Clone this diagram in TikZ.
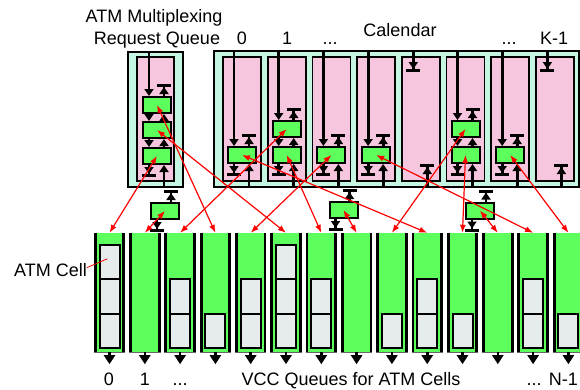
\documentclass[tikz,border=0pt]{standalone}
\usepackage{fontspec}
\setmainfont{Liberation Sans}
\usetikzlibrary{arrows.meta}

\definecolor{mint}{RGB}{196,246,226}
\definecolor{slotpink}{RGB}{246,198,222}
\definecolor{qgreen}{RGB}{92,255,92}
\definecolor{cellgray}{RGB}{230,235,235}

\begin{document}
\begin{tikzpicture}[x=1pt,y=-1pt,
      lbl/.style={font=\fontsize{18}{20}\selectfont,inner sep=0pt,anchor=base},
      frame/.style={draw,line width=2pt,fill=mint,inner sep=0pt},
      calslot/.style={draw,line width=1.8pt,fill=slotpink,inner sep=0pt,minimum width=38pt,minimum height=124pt},
      entrybox/.style={draw,line width=2pt,fill=qgreen,inner sep=0pt,minimum width=28pt,minimum height=16pt},
      vcc/.style={fill=qgreen,inner sep=0pt,minimum width=31pt,minimum height=119pt},
      atmcell/.style={draw,line width=2pt,fill=cellgray,inner sep=0pt,minimum width=20pt,minimum height=34.5pt},
      ptr/.style={line width=2.8pt,-{Triangle[length=7pt,width=9pt]}},
      nullptr/.style={line width=2.8pt,-{Triangle[length=7pt,width=9pt]Bar[width=14pt,line width=3pt]}},
      drain/.style={line width=2.6pt,-{Triangle[length=9pt,width=11pt]}},
      every edge/.style={draw,red,line width=1.2pt,{Latex[length=8pt,width=6pt]}-{Latex[length=8pt,width=6pt]}}
    ]
      \useasboundingbox[fill=white] (0,0) rectangle (580,389);

      \node[frame,minimum width=55pt,minimum height=135pt] (rq) at (155.5,119.5) {};
      \node[calslot,minimum width=37pt] (rqin) at (155.5,119) {};
      \node[entrybox] (r1) at (157,105) {};
      \node[entrybox] (r2) at (157,130) {};
      \node[entrybox] (r3) at (157,156) {};
      \draw[ptr] ([xshift=-8pt]r1.north |- rq.north) -- ([xshift=-8pt]r1.north);
      \draw[nullptr] ([xshift=7pt]r1.north) -- ++(0,-12);
      \draw[ptr] ([xshift=-8pt]r1.south) -- ([xshift=-8pt]r2.north);
      \draw[ptr] ([xshift=7pt]r2.north) -- ([xshift=7pt]r1.south);
      \draw[ptr] ([xshift=-8pt]r2.south) -- ([xshift=-8pt]r3.north);
      \draw[ptr] ([xshift=7pt]r3.north) -- ([xshift=7pt]r2.south);
      \draw[nullptr] ([xshift=-8pt]r3.south) -- ++(0,12);
      \draw[ptr] ([xshift=7pt]r3.south |- rq.south) -- ([xshift=7pt]r3.south);

      \node[frame,minimum width=365pt,minimum height=136pt] (cal) at (396.5,119) {};
      \foreach \i in {0,...,7}
        \node[calslot] (s\i) at ({242+44.7*\i},119) {};
      \foreach \i in {0,2,3,6}{
        \node[entrybox] (c\i) at ({242+44.7*\i},155) {};
        \draw[ptr] ([xshift=-8pt]c\i.north |- cal.north) -- ([xshift=-8pt]c\i.north);
        \draw[nullptr] ([xshift=7pt]c\i.north) -- ++(0,-12);
        \draw[nullptr] ([xshift=-8pt]c\i.south) -- ++(0,12);
        \draw[ptr] ([xshift=7pt]c\i.south |- cal.south) -- ([xshift=7pt]c\i.south);
      }
      \foreach \i in {1,5}{
        \node[entrybox] (c\i a) at ({242+44.7*\i},129) {};
        \node[entrybox] (c\i b) at ({242+44.7*\i},155) {};
        \draw[ptr] ([xshift=-8pt]c\i a.north |- cal.north) -- ([xshift=-8pt]c\i a.north);
        \draw[nullptr] ([xshift=7pt]c\i a.north) -- ++(0,-12);
        \draw[ptr] ([xshift=-8pt]c\i a.south) -- ([xshift=-8pt]c\i b.north);
        \draw[ptr] ([xshift=7pt]c\i b.north) -- ([xshift=7pt]c\i a.south);
        \draw[nullptr] ([xshift=-8pt]c\i b.south) -- ++(0,12);
        \draw[ptr] ([xshift=7pt]c\i b.south |- cal.south) -- ([xshift=7pt]c\i b.south);
      }
      \foreach \i in {4,7}{
        \draw[nullptr] ([xshift=-7.5pt]s\i.north |- cal.north) -- ++(0,22);
        \draw[nullptr] ([xshift=6.5pt]s\i.south |- cal.south) -- ++(0,-24);
      }

      \node[entrybox] (m1) at (165,211) {};
      \node[entrybox] (m2) at (343.5,210) {};
      \node[entrybox] (m3) at (480,210.5) {};
      \foreach \m in {m1,m2,m3}{
        \draw[nullptr] ([xshift=6pt]\m.north) -- ++(0,-12);
        \draw[nullptr] ([xshift=-8pt]\m.south) -- ++(0,12);
      }

      \foreach \i in {0,...,13}{
        \node[vcc] (q\i) at ({109.5+35.3*\i},292.5) {};
        \draw[line width=2.8pt] ([xshift=1.4pt]q\i.north west) -- ([xshift=1.4pt]q\i.south west)
          ([xshift=-1.4pt]q\i.north east) -- ([xshift=-1.4pt]q\i.south east);
        \draw[black!60,line width=0.6pt] (q\i.south west) -- (q\i.south east);
        \draw[drain] (q\i.south) -- ++(0,12);
      }
      \foreach \i/\k in {0/1,0/2,0/3,2/1,2/2,3/1,4/1,4/2,5/1,5/2,5/3,6/1,6/2,
                         8/1,9/1,9/2,10/1,12/1,12/2,13/1}
        \node[atmcell] (cell\i-\k) at ({109.5+35.3*\i},{348-34.5*(\k-0.5)}) {};

      \draw (r1.center) edge (q3.north) (r2.center) edge (q5.north)
        (r3.center) edge (q0.north) (m1.center) edge (q1.north)
        (c0.center) edge (q9.north) (c1a.center) edge (q2.north)
        (c1b.center) edge (q6.north) (c2.center) edge (q4.north)
        (c3.center) edge (q12.north) (c5a.center) edge (q8.north)
        (c5b.center) edge (q10.north) (c6.center) edge (q13.north)
        (m2.center) edge (q7.north) (m3.center) edge (q11.north);

      \node[lbl] (rqtitle) at (154,22) {ATM Multiplexing};
      \node[lbl] (rqtitle2) at (157,44) {Request Queue};
      \node[lbl] (caltitle) at (400,36) {Calendar};
      \node[lbl] (k0) at (242,44) {0};
      \node[lbl] (k1) at (287,44) {1};
      \node[lbl] (kdots) at (330,44) {...};
      \node[lbl] (kdots2) at (509,44) {...};
      \node[lbl] (klast) at (554,44) {K-1};
      \node[lbl] (n0) at (109,385) {0};
      \node[lbl] (n1) at (145,385) {1};
      \node[lbl] (ndots) at (180,385) {...};
      \node[lbl] (vcctitle) at (351,385) {VCC Queues for ATM Cells};
      \node[lbl] (ndots2) at (534,385) {...};
      \node[lbl,anchor=base east] (nlast) at (578,385) {N-1};
      \node[lbl,anchor=base west] (atmlbl) at (14,276) {ATM Cell};
      \draw[red,line width=0.8pt] ([yshift=2pt]atmlbl.east) -- ([xshift=-2pt,yshift=3pt]cell0-3.center);
    \end{tikzpicture}
\end{document}
